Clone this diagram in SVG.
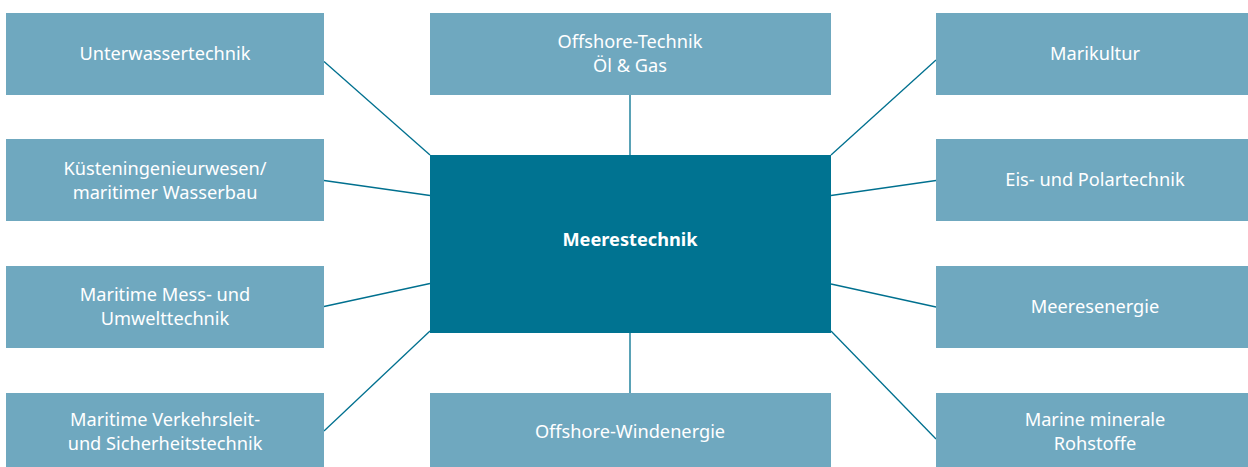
<svg xmlns="http://www.w3.org/2000/svg" width="1248" height="467" viewBox="0 0 1248 467">
<style>
.box{fill:#6fa8bf}
.core{fill:#007391}
.t{font-family:"Noto Sans","Open Sans",sans-serif;font-size:18.2px;fill:#ffffff;text-anchor:middle}
.b{font-weight:bold}
.c{stroke:#00708f;stroke-width:1.3;fill:none}
</style>
<rect width="1248" height="467" fill="#ffffff"/>
<g id="connectors">
<line class="c" x1="324" y1="61.5" x2="430" y2="155"/>
<line class="c" x1="324" y1="180.5" x2="430" y2="195.5"/>
<line class="c" x1="324" y1="306.5" x2="430" y2="283.5"/>
<line class="c" x1="324" y1="431" x2="430" y2="331"/>
<line class="c" x1="630" y1="95" x2="630" y2="155"/>
<line class="c" x1="630" y1="333" x2="630" y2="393"/>
<line class="c" x1="831" y1="155" x2="936" y2="60"/>
<line class="c" x1="831" y1="195.5" x2="936" y2="180.5"/>
<line class="c" x1="831" y1="284" x2="936" y2="307"/>
<line class="c" x1="831" y1="331" x2="936" y2="439"/>
</g>
<g id="center">
<rect class="core" x="430" y="155" width="401" height="178"/>
<text class="t b" x="630" y="246">Meerestechnik</text>
</g>
<g id="unterwasser">
<rect class="box" x="6" y="13" width="318" height="82"/>
<text class="t" x="165" y="60">Unterwassertechnik</text>
</g>
<g id="kuesten">
<rect class="box" x="6" y="139" width="318" height="82"/>
<text class="t" x="165" y="175">Küsteningenieurwesen/</text>
<text class="t" x="165" y="199">maritimer Wasserbau</text>
</g>
<g id="mess">
<rect class="box" x="6" y="266" width="318" height="82"/>
<text class="t" x="165" y="301">Maritime Mess- und</text>
<text class="t" x="165" y="325">Umwelttechnik</text>
</g>
<g id="verkehr">
<rect class="box" x="6" y="393" width="318" height="82"/>
<text class="t" x="165" y="426">Maritime Verkehrsleit-</text>
<text class="t" x="165" y="450">und Sicherheitstechnik</text>
</g>
<g id="offshore-oel">
<rect class="box" x="430" y="13" width="401" height="82"/>
<text class="t" x="630" y="48">Offshore-Technik</text>
<text class="t" x="630" y="72">Öl &amp; Gas</text>
</g>
<g id="offshore-wind">
<rect class="box" x="430" y="393" width="401" height="82"/>
<text class="t" x="630" y="438">Offshore-Windenergie</text>
</g>
<g id="marikultur">
<rect class="box" x="936" y="13" width="318" height="82"/>
<text class="t" x="1095" y="60">Marikultur</text>
</g>
<g id="eis">
<rect class="box" x="936" y="139" width="318" height="82"/>
<text class="t" x="1095" y="186">Eis- und Polartechnik</text>
</g>
<g id="meeresenergie">
<rect class="box" x="936" y="266" width="318" height="82"/>
<text class="t" x="1095" y="313">Meeresenergie</text>
</g>
<g id="mineral">
<rect class="box" x="936" y="393" width="318" height="82"/>
<text class="t" x="1095" y="426">Marine minerale</text>
<text class="t" x="1095" y="450">Rohstoffe</text>
</g>
</svg>
